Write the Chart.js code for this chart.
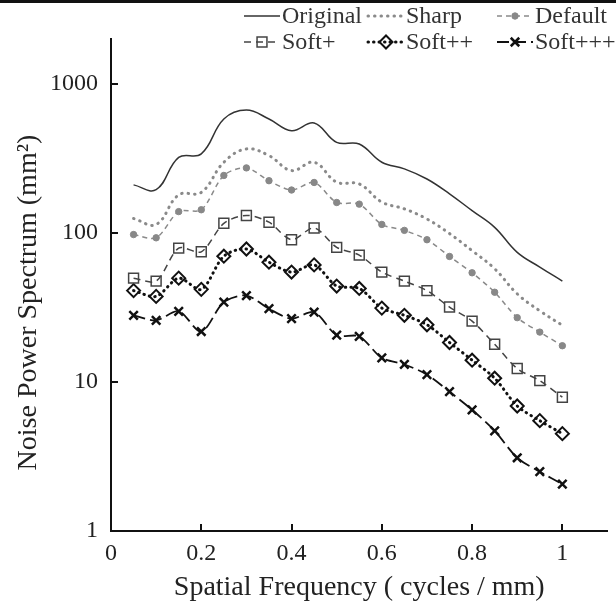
<!DOCTYPE html>
<html lang="en">
<head>
<meta charset="UTF-8">
<title>Noise Power Spectrum</title>
<style>
  html, body { margin: 0; padding: 0; background: #fff; }
  .chart-container { width: 616px; height: 604px; position: relative; }
</style>
</head>
<body>
<div class="chart-container"><canvas id="npsChart"></canvas></div>

<script src="https://cdn.jsdelivr.net/npm/chart.js"></script>
<script>
// spatial frequency samples (cycles / mm)
const freq = [0.05, 0.1, 0.15, 0.2, 0.25, 0.3, 0.35, 0.4, 0.45, 0.5,
              0.55, 0.6, 0.65, 0.7, 0.75, 0.8, 0.85, 0.9, 0.95, 1.0];

// NPS values (mm^2)
const original = [210, 195, 321, 339, 581, 667, 581, 485, 546, 405, 395, 298, 269, 230, 183, 141, 109, 74, 59, 47.5];
const sharp    = [125, 114, 180, 187, 298, 366, 330, 262, 298, 219, 213, 161, 145, 124, 99, 76, 57.5, 39, 30, 24];
const deflt    = [97.5, 92.7, 139, 143, 243, 273, 224, 194, 218, 160, 156, 114, 104, 90, 69.5, 54, 40, 27, 21.6, 17.5];
const softP    = [49.7, 47.5, 79, 74.7, 116, 131, 118, 90, 108, 80, 71, 54.6, 47.5, 41, 31.8, 25.6, 17.9, 12.3, 10.2, 7.9];
const softPP   = [41, 37.5, 49.7, 41.8, 69.8, 78, 63.6, 54.6, 61, 44, 42.4, 31.3, 28, 24.2, 18.4, 14, 10.6, 6.9, 5.5, 4.5];
const softPPP  = [28, 25.9, 29.8, 21.8, 34.3, 38, 31, 26.6, 29.4, 20.6, 20.2, 14.5, 13.1, 11.2, 8.6, 6.5, 4.7, 3.1, 2.5, 2.06];

const xTicks = [0, 0.2, 0.4, 0.6, 0.8, 1];
const yTicks = [1, 10, 100, 1000];

const serif = '"Liberation Serif", "Times New Roman", serif';

function toXY(vals) {
  return vals.map((v, i) => ({ x: freq[i], y: v }));
}

// legend laid out as a 3x2 grid above the plot
const legendGrid = {
  id: 'legendGrid',
  afterDraw(chart) {
    const ctx = chart.ctx;
    const colX = [244, 368, 497];
    const rowY = [16, 42];
    const len = 36;
    ctx.save();
    chart.data.datasets.forEach((ds, i) => {
      const x0 = colX[i % 3];
      const y = rowY[Math.floor(i / 3)];
      ctx.strokeStyle = ds.borderColor;
      ctx.lineWidth = ds.borderWidth;
      ctx.lineCap = ds.borderCapStyle || 'butt';
      ctx.setLineDash(ds.borderDash || []);
      ctx.beginPath();
      ctx.moveTo(x0, y);
      ctx.lineTo(x0 + len, y);
      ctx.stroke();
      ctx.setLineDash([]);
      ctx.lineCap = 'butt';
      if (ds.pointRadius > 0) {
        ctx.fillStyle = ds.pointBackgroundColor;
        ctx.strokeStyle = ds.pointBorderColor;
        ctx.lineWidth = ds.pointBorderWidth;
        Chart.helpers.drawPoint(ctx, {
          pointStyle: ds.pointStyle, radius: ds.pointRadius,
          rotation: 0, borderWidth: ds.pointBorderWidth
        }, x0 + len / 2, y);
      }
      ctx.fillStyle = '#333';
      ctx.font = '24px ' + serif;
      ctx.textBaseline = 'middle';
      ctx.fillText(ds.label, x0 + len + 2, y + 1);
    });
    ctx.restore();
  }
};

// inward tick marks + top rule
const axisDecor = {
  id: 'axisDecor',
  beforeDraw(chart) {
    const ctx = chart.ctx;
    ctx.save();
    ctx.fillStyle = '#fff';
    ctx.fillRect(0, 0, chart.width, chart.height);
    ctx.fillStyle = '#111';
    ctx.fillRect(0, 0, chart.width, 3);
    ctx.restore();
  },
  afterDraw(chart) {
    const { ctx, chartArea } = chart;
    const xs = chart.scales.x, ys = chart.scales.y;
    ctx.save();
    ctx.strokeStyle = '#111';
    ctx.lineWidth = 2;
    ctx.beginPath();
    xTicks.slice(1).forEach(v => {
      const px = Math.round(xs.getPixelForValue(v));
      ctx.moveTo(px, chartArea.bottom);
      ctx.lineTo(px, chartArea.bottom - 7);
    });
    yTicks.slice(1).forEach(v => {
      const py = Math.round(ys.getPixelForValue(v));
      ctx.moveTo(chartArea.left, py);
      ctx.lineTo(chartArea.left + 7, py);
    });
    ctx.stroke();
    ctx.restore();
  }
};

const ctx = document.getElementById('npsChart').getContext('2d');
new Chart(ctx, {
  type: 'line',
  data: {
    datasets: [
      {
        label: 'Original', data: toXY(original),
        borderColor: '#333', borderWidth: 1.5, tension: 0.4,
        pointRadius: 0
      },
      {
        label: 'Sharp', data: toXY(sharp),
        borderColor: '#8a8a8a', borderWidth: 3, borderDash: [0.5, 6], borderCapStyle: 'round',
        tension: 0.4, pointRadius: 0
      },
      {
        label: 'Default', data: toXY(deflt),
        borderColor: '#8a8a8a', borderWidth: 1.5, borderDash: [5, 4], tension: 0.3,
        pointStyle: 'circle', pointRadius: 3.2,
        pointBackgroundColor: '#888', pointBorderColor: '#888', pointBorderWidth: 1
      },
      {
        label: 'Soft+', data: toXY(softP),
        borderColor: '#444', borderWidth: 1.5, borderDash: [7, 5], tension: 0.3,
        pointStyle: 'rect', pointRadius: 7,
        pointBackgroundColor: 'rgba(0,0,0,0)', pointBorderColor: '#444', pointBorderWidth: 1.5
      },
      {
        label: 'Soft++', data: toXY(softPP),
        borderColor: '#111', borderWidth: 3, borderDash: [0.5, 5], borderCapStyle: 'round',
        tension: 0.3,
        pointStyle: 'rectRot', pointRadius: 6.5,
        pointBackgroundColor: 'rgba(0,0,0,0)', pointBorderColor: '#111', pointBorderWidth: 2
      },
      {
        label: 'Soft+++', data: toXY(softPPP),
        borderColor: '#111', borderWidth: 1.8, borderDash: [12, 5], tension: 0.3,
        pointStyle: 'crossRot', pointRadius: 6,
        pointBackgroundColor: '#111', pointBorderColor: '#111', pointBorderWidth: 2.5
      }
    ]
  },
  options: {
    responsive: true,
    maintainAspectRatio: false,
    animation: false,
    layout: { padding: { top: 39, right: 7, left: 0, bottom: 0 } },
    plugins: {
      legend: { display: false },
      tooltip: { enabled: false }
    },
    scales: {
      x: {
        type: 'linear', min: 0, max: 1.1,
        afterFit: s => { s.height = 73; },
        afterBuildTicks: s => { s.ticks = xTicks.map(v => ({ value: v })); },
        grid: { display: true, drawOnChartArea: false, drawTicks: false },
        border: { display: true, color: '#111', width: 2 },
        ticks: {
          autoSkip: false, maxRotation: 0, padding: 8, color: '#222',
          font: { family: serif, size: 24 },
          callback: v => String(v)
        },
        title: {
          display: true, text: 'Spatial Frequency ( cycles / mm)', color: '#222',
          font: { family: serif, size: 28 }, padding: { top: 0, bottom: 0 }
        }
      },
      y: {
        type: 'logarithmic', min: 1, max: 2000,
        afterFit: s => { s.width = 111; },
        afterBuildTicks: s => { s.ticks = yTicks.map(v => ({ value: v })); },
        grid: { display: true, drawOnChartArea: false, drawTicks: false },
        border: { display: true, color: '#111', width: 2 },
        ticks: {
          autoSkip: false, padding: 13, color: '#222',
          font: { family: serif, size: 24 },
          callback: v => String(v)
        },
        title: {
          display: true, text: 'Noise Power Spectrum (mm\u00b2)' + '\u00a0'.repeat(5), color: '#222',
          font: { family: serif, size: 28 }, padding: { top: 12, bottom: 0 }
        }
      }
    }
  },
  plugins: [axisDecor, legendGrid]
});
</script>
</body>
</html>
